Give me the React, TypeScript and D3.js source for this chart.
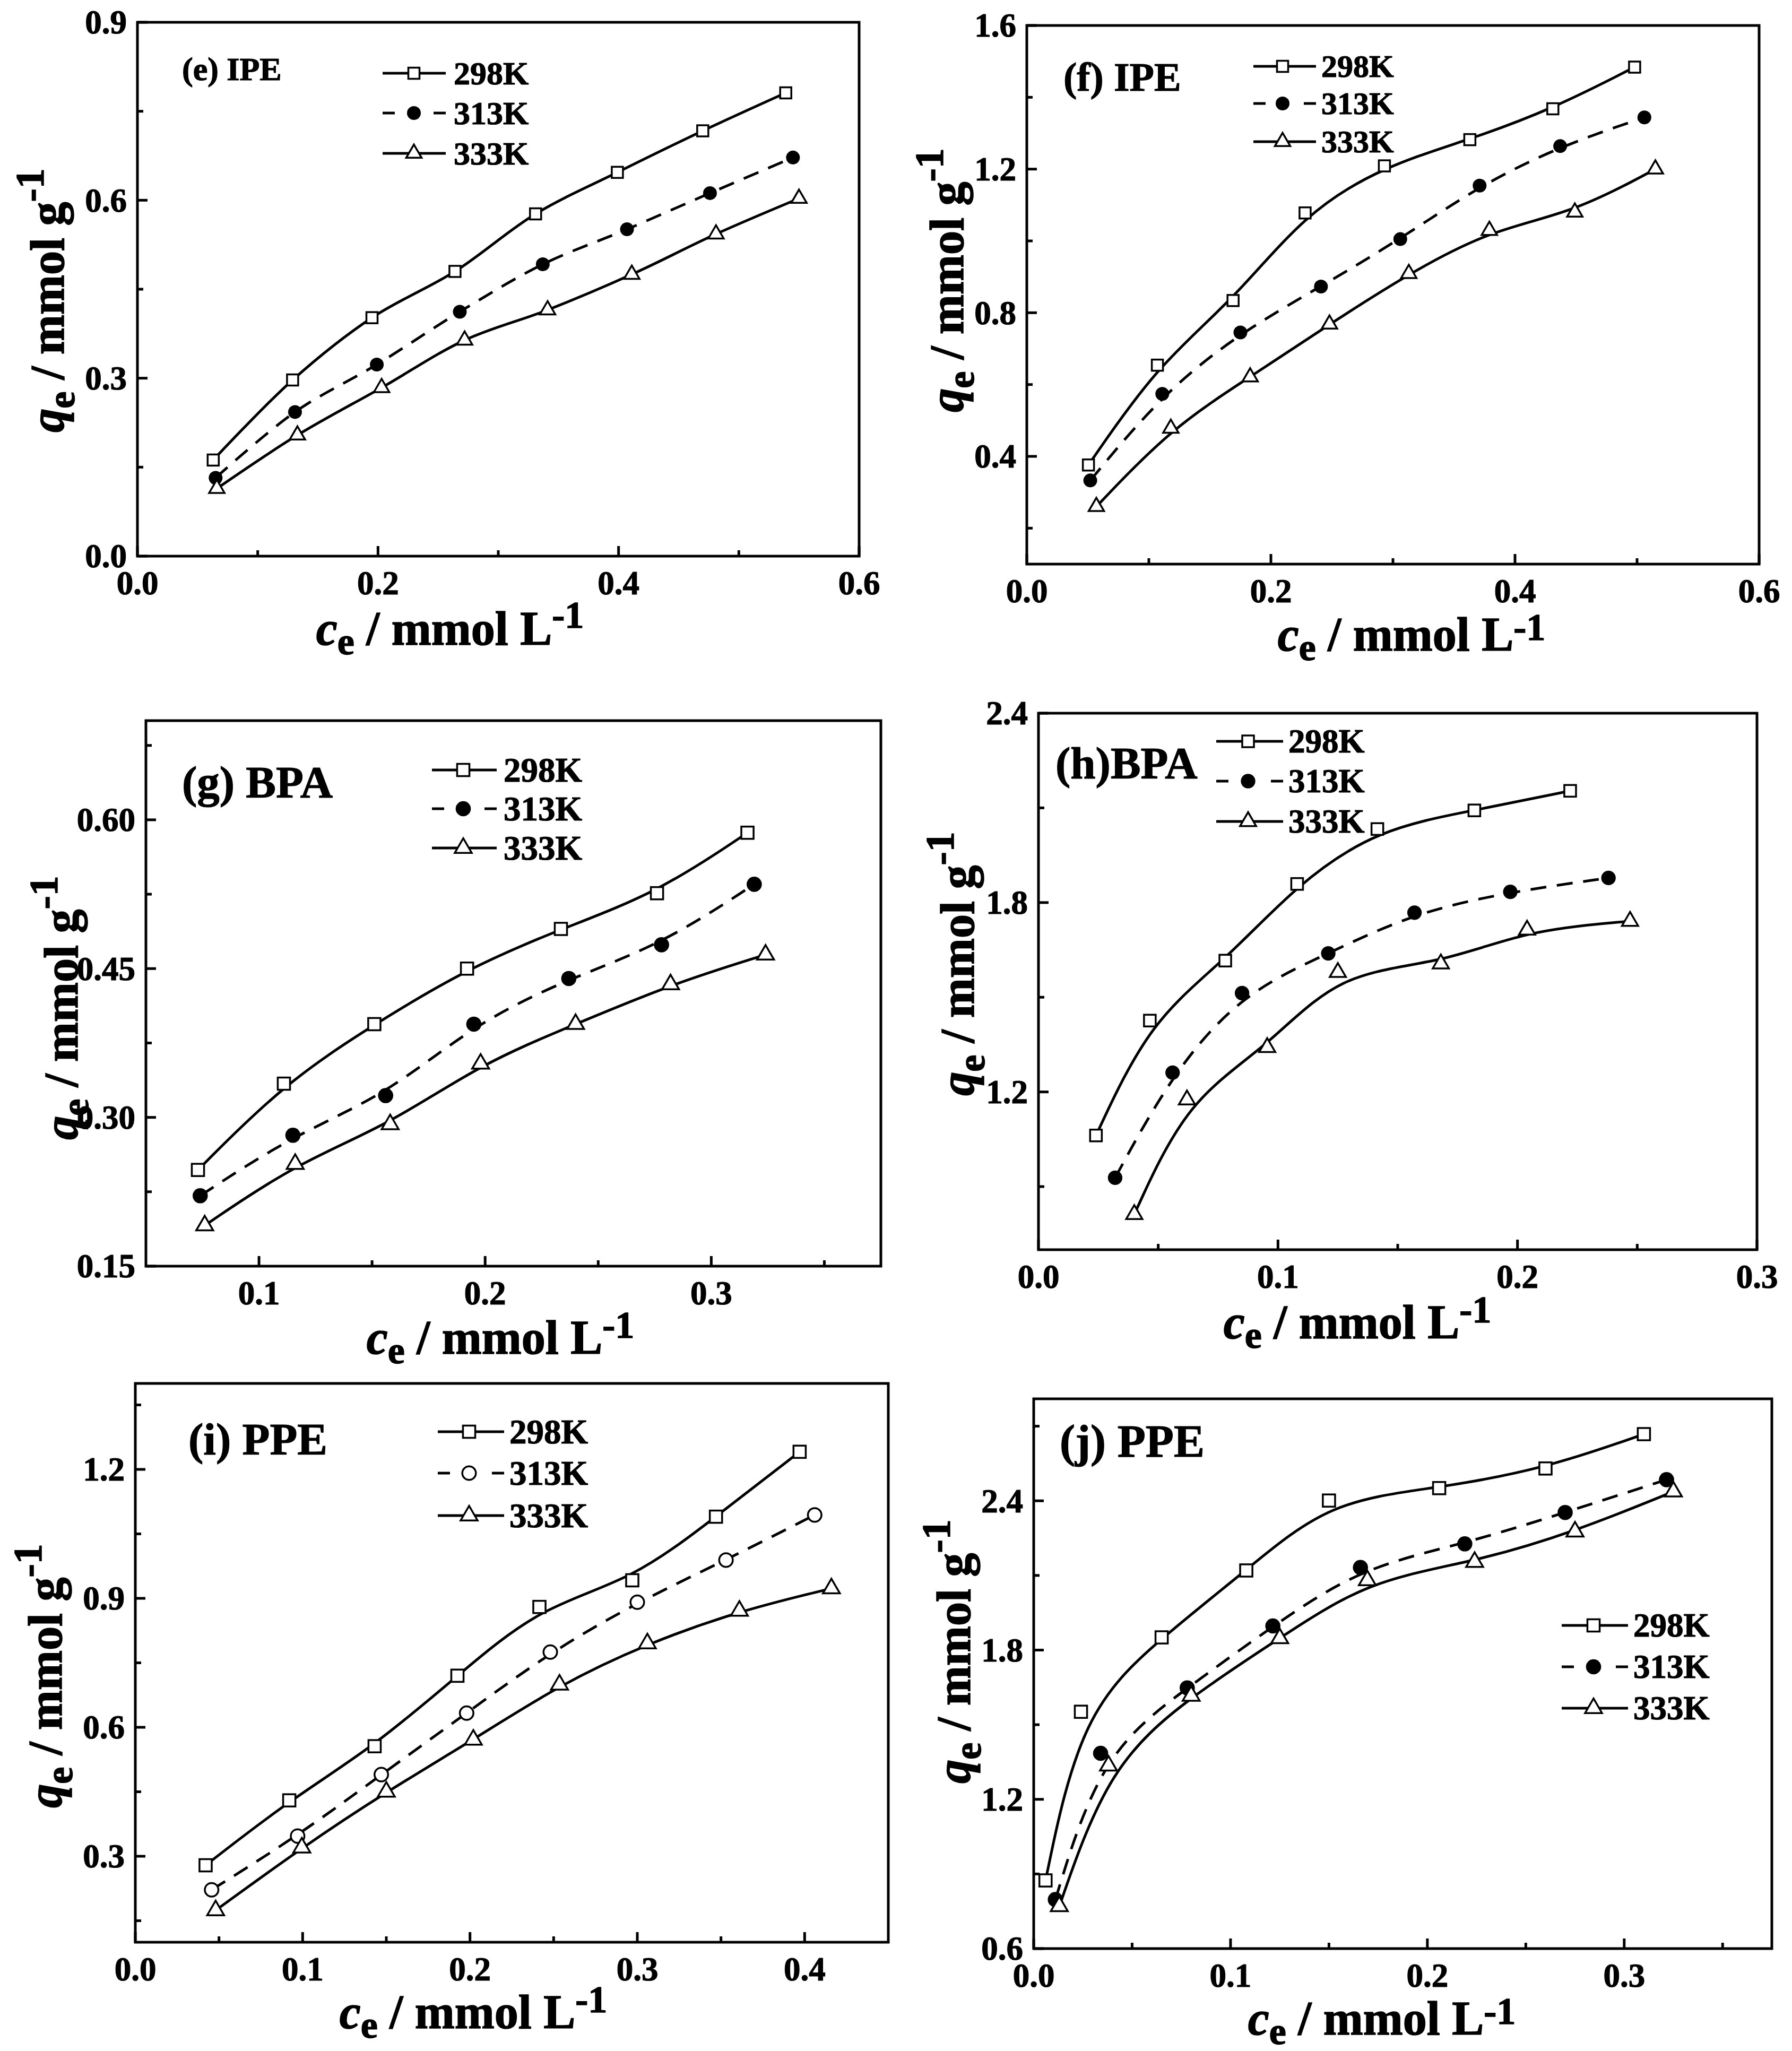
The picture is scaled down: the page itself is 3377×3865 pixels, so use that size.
import React from 'react';
import * as d3 from 'd3';

// ---------------- DATA ----------------
const seriesNames = ['298K', '313K', '333K'];

// (e) IPE
const e298x = [0.063, 0.129, 0.195, 0.264, 0.331, 0.399, 0.470, 0.539];
const e298y = [0.162, 0.297, 0.402, 0.480, 0.577, 0.647, 0.717, 0.781];
const e313x = [0.065, 0.131, 0.199, 0.268, 0.337, 0.407, 0.476, 0.545];
const e313y = [0.132, 0.243, 0.323, 0.412, 0.492, 0.551, 0.612, 0.672];
const e333x = [0.066, 0.133, 0.203, 0.272, 0.341, 0.411, 0.481, 0.550];
const e333y = [0.114, 0.204, 0.284, 0.364, 0.415, 0.475, 0.543, 0.603];

// (f) IPE
const f298x = [0.0505, 0.107, 0.169, 0.228, 0.293, 0.363, 0.431, 0.498];
const f298y = [0.376, 0.654, 0.834, 1.078, 1.209, 1.282, 1.368, 1.484];
const f313x = [0.052, 0.111, 0.175, 0.241, 0.306, 0.371, 0.437, 0.506];
const f313y = [0.333, 0.574, 0.745, 0.873, 1.005, 1.154, 1.264, 1.344];
const f333x = [0.057, 0.118, 0.183, 0.248, 0.313, 0.379, 0.449, 0.515];
const f333y = [0.260, 0.478, 0.621, 0.768, 0.909, 1.029, 1.080, 1.200];

// (g) BPA
const g298x = [0.073, 0.111, 0.151, 0.192, 0.2335, 0.276, 0.316];
const g298y = [0.247, 0.334, 0.394, 0.450, 0.490, 0.526, 0.587];
const g313x = [0.074, 0.115, 0.156, 0.195, 0.237, 0.278, 0.319];
const g313y = [0.221, 0.282, 0.322, 0.394, 0.440, 0.474, 0.535];
const g333x = [0.076, 0.116, 0.158, 0.198, 0.240, 0.282, 0.324];
const g333y = [0.191, 0.253, 0.293, 0.354, 0.394, 0.434, 0.464];

// (h) BPA
const h298x = [0.024, 0.0465, 0.078, 0.108, 0.1415, 0.182, 0.222];
const h298y = [1.062, 1.426, 1.616, 1.859, 2.033, 2.092, 2.154];
const h313x = [0.032, 0.056, 0.085, 0.121, 0.157, 0.197, 0.238];
const h313y = [0.928, 1.261, 1.513, 1.639, 1.768, 1.834, 1.878];
const h333x = [0.040, 0.062, 0.0955, 0.125, 0.168, 0.204, 0.247];
const h333y = [0.812, 1.175, 1.341, 1.579, 1.606, 1.713, 1.741];

// (i) PPE
const i298x = [0.042, 0.092, 0.143, 0.1925, 0.2415, 0.297, 0.347, 0.397];
const i298y = [0.279, 0.430, 0.556, 0.720, 0.880, 0.942, 1.090, 1.241];
const i313x = [0.0456, 0.097, 0.147, 0.198, 0.248, 0.300, 0.353, 0.406];
const i313y = [0.222, 0.347, 0.490, 0.633, 0.775, 0.891, 0.989, 1.094];
const i333x = [0.048, 0.0995, 0.150, 0.202, 0.2535, 0.306, 0.361, 0.416];
const i333y = [0.174, 0.320, 0.450, 0.571, 0.699, 0.795, 0.871, 0.923];

// (j) PPE
const j298x = [0.006, 0.024, 0.065, 0.108, 0.150, 0.206, 0.260, 0.310];
const j298y = [0.874, 1.552, 1.851, 2.120, 2.401, 2.451, 2.530, 2.668];
const j313x = [0.011, 0.034, 0.078, 0.1215, 0.166, 0.219, 0.270, 0.3215];
const j313y = [0.797, 1.385, 1.648, 1.897, 2.132, 2.227, 2.353, 2.485];
const j333x = [0.013, 0.038, 0.080, 0.125, 0.1695, 0.224, 0.275, 0.325];
const j333y = [0.770, 1.335, 1.616, 1.847, 2.080, 2.154, 2.276, 2.437];

// tick values
const ticksX06 = [0, 0.2, 0.4, 0.6];
const minorX06 = [0.1, 0.3, 0.5];
const ticksX03 = [0, 0.1, 0.2, 0.3];
const minorX03 = [0.05, 0.15, 0.25];
const ticksXg = [0.1, 0.2, 0.3];
const minorXg = [0.15, 0.25, 0.35];
const ticksXi = [0, 0.1, 0.2, 0.3, 0.4];
const minorXi = [0.05, 0.15, 0.25, 0.35];
const minorXj = [0.05, 0.15, 0.25, 0.35];

const ticksYe = [0, 0.3, 0.6, 0.9];
const minorYe = [0.15, 0.45, 0.75];
const ticksYf = [0.4, 0.8, 1.2, 1.6];
const minorYf = [0.2, 0.6, 1.0, 1.4];
const ticksYg = [0.15, 0.3, 0.45, 0.6];
const minorYg = [0.225, 0.375, 0.525, 0.675];
const ticksYh = [1.2, 1.8, 2.4];
const minorYh = [0.9, 1.5, 2.1];
const ticksYi = [0.3, 0.6, 0.9, 1.2];
const minorYi = [0.15, 0.45, 0.75, 1.05, 1.35];
const ticksYj = [0.6, 1.2, 1.8, 2.4];
const minorYj = [0.9, 1.5, 2.1, 2.7];

// ---------------- LAYOUT ----------------
const FONT = "'Liberation Serif', 'Times New Roman', serif";
const TS = 1.2; // extra stroke to thicken bold text

const zip = (xs: number[], ys: number[]) => xs.map((x, k) => [x, ys[k]] as [number, number]);

type PanelCfg = {
  label: string; lx: number; ly: number; lfs: number;
  l: number; r: number; t: number; b: number;
  xd: [number, number]; yd: [number, number];
  xt: number[]; xm: number[]; yt: number[]; ym: number[];
  xfmt: (v: number) => string; yfmt: (v: number) => string;
  series: [number, number][][];
  curve: any;
  openCircle: boolean;
  ms: number;
  leg: { x1: number; x2: number; mx: number; tx: number; rows: number[]; fs: number };
  xTitle: [number, number]; yTitle: [number, number]; supRaise: number;
};

const f1 = d3.format('.1f');
const f2 = d3.format('.2f');

const panels: PanelCfg[] = [
  {
    label: '(e) IPE', lx: 343, ly: 151, lfs: 62,
    l: 259, r: 1619, t: 42, b: 1048, xd: [0, 0.6], yd: [0, 0.9],
    xt: ticksX06, xm: minorX06, yt: ticksYe, ym: minorYe, xfmt: f1, yfmt: f1,
    series: [zip(e298x, e298y), zip(e313x, e313y), zip(e333x, e333y)],
    curve: d3.curveCatmullRom, openCircle: false, ms: 1,
    leg: { x1: 721, x2: 840, mx: 780, tx: 855, rows: [138, 213, 289], fs: 62 },
    xTitle: [848, 1215], yTitle: [120, 566], supRaise: 32,
  },
  {
    label: '(f) IPE', lx: 2004, ly: 171, lfs: 76,
    l: 1935, r: 3315, t: 48, b: 1063, xd: [0, 0.6], yd: [0.1, 1.6],
    xt: ticksX06, xm: minorX06, yt: ticksYf, ym: minorYf, xfmt: f1, yfmt: f1,
    series: [zip(f298x, f298y), zip(f313x, f313y), zip(f333x, f333y)],
    curve: d3.curveBasis, openCircle: false, ms: 1,
    leg: { x1: 2362, x2: 2480, mx: 2417, tx: 2490, rows: [125, 195, 267], fs: 60 },
    xTitle: [2660, 1226], yTitle: [1815, 528], supRaise: 20,
  },
  {
    label: '(g) BPA', lx: 343, ly: 1503, lfs: 85,
    l: 275, r: 1660, t: 1358, b: 2386, xd: [0.05, 0.375], yd: [0.15, 0.70],
    xt: ticksXg, xm: minorXg, yt: ticksYg, ym: minorYg, xfmt: f1, yfmt: f2,
    series: [zip(g298x, g298y), zip(g313x, g313y), zip(g333x, g333y)],
    curve: d3.curveBasis, openCircle: false, ms: 1.1,
    leg: { x1: 814, x2: 936, mx: 873, tx: 949, rows: [1451, 1524, 1598], fs: 65 },
    xTitle: [943, 2551], yTitle: [146, 1899], supRaise: 30,
  },
  {
    label: '(h)BPA', lx: 1989, ly: 1467, lfs: 85,
    l: 1957, r: 3311, t: 1344, b: 2355, xd: [0, 0.3], yd: [0.7, 2.4],
    xt: ticksX03, xm: minorX03, yt: ticksYh, ym: minorYh, xfmt: f1, yfmt: f1,
    series: [zip(h298x, h298y), zip(h313x, h313y), zip(h333x, h333y)],
    curve: d3.curveBasis, openCircle: false, ms: 1.05,
    leg: { x1: 2292, x2: 2418, mx: 2352, tx: 2428, rows: [1397, 1472, 1548], fs: 63 },
    xTitle: [2558, 2522], yTitle: [1835, 1816], supRaise: 30,
  },
  {
    label: '(i) PPE', lx: 355, ly: 2741, lfs: 85,
    l: 255, r: 1674, t: 2607, b: 3660, xd: [0, 0.45], yd: [0.1, 1.4],
    xt: ticksXi, xm: minorXi, yt: ticksYi, ym: minorYi, xfmt: f1, yfmt: f1,
    series: [zip(i298x, i298y), zip(i313x, i313y), zip(i333x, i333y)],
    curve: d3.curveBasis, openCircle: true, ms: 1.1,
    leg: { x1: 825, x2: 950, mx: 884, tx: 960, rows: [2698, 2776, 2856], fs: 65 },
    xTitle: [892, 3822], yTitle: [116, 3158], supRaise: 30,
  },
  {
    label: '(j) PPE', lx: 1997, ly: 2745, lfs: 87,
    l: 1948, r: 3339, t: 2636, b: 3672, xd: [0, 0.375], yd: [0.6, 2.81],
    xt: ticksX03, xm: minorXj, yt: ticksYj, ym: minorYj, xfmt: f1, yfmt: f1,
    series: [zip(j298x, j298y), zip(j313x, j313y), zip(j333x, j333y)],
    curve: d3.curveBasis, openCircle: false, ms: 1.1,
    leg: { x1: 2943, x2: 3068, mx: 3003, tx: 3078, rows: [3063, 3141, 3219], fs: 63 },
    xTitle: [2604, 3834], yTitle: [1828, 3112], supRaise: 20,
  },
];

const LW = 5;
const DASH = '30,20';

function Marker({ kind, x, y, s, open }: { kind: number; x: number; y: number; s: number; open: boolean }) {
  if (kind === 0) {
    const a = 21 * s;
    return <rect x={x - a / 2} y={y - a / 2} width={a} height={a} fill="#fff" stroke="#000" strokeWidth={3.5} />;
  }
  if (kind === 1) {
    const r = 13 * s;
    return open
      ? <circle cx={x} cy={y} r={r - 1.5} fill="#fff" stroke="#000" strokeWidth={3.5} />
      : <circle cx={x} cy={y} r={r} fill="#000" />;
  }
  const w = 29 * s, h = 25 * s;
  const d = `M${x},${y - (h * 2) / 3}L${x + w / 2},${y + h / 3}L${x - w / 2},${y + h / 3}Z`;
  return <path d={d} fill="#fff" stroke="#000" strokeWidth={3.5} strokeLinejoin="miter" />;
}

function XTitle({ x, y, sup }: { x: number; y: number; sup: number }) {
  return (
    <text x={x} y={y} textAnchor="middle" fontFamily={FONT} fontWeight="bold" fontSize={90}
      stroke="#000" strokeWidth={1.6}>
      <tspan fontStyle="italic">c</tspan>
      <tspan fontSize={72} dy={18}>e</tspan>
      <tspan dy={-18}> / mmol L</tspan>
      <tspan fontSize={72} dy={-sup}>-1</tspan>
    </text>
  );
}

function YTitle({ x, y }: { x: number; y: number }) {
  return (
    <text x={0} y={0} transform={`translate(${x},${y}) rotate(-90)`} textAnchor="middle"
      fontFamily={FONT} fontWeight="bold" fontSize={90} stroke="#000" strokeWidth={1.6}>
      <tspan fontStyle="italic">q</tspan>
      <tspan fontSize={72} dy={20}>e</tspan>
      <tspan dy={-20}> / mmol g</tspan>
      <tspan fontSize={76} dy={-38}>-1</tspan>
    </text>
  );
}

function Panel({ p }: { p: PanelCfg }) {
  const xs = d3.scaleLinear().domain(p.xd).range([p.l, p.r]);
  const ys = d3.scaleLinear().domain(p.yd).range([p.b, p.t]);
  const line = d3.line<[number, number]>().x(d => xs(d[0])).y(d => ys(d[1])).curve(p.curve);
  const maj = 19, mnr = 11;
  const legLen = p.leg.x2 - p.leg.x1;
  const legDash = `23,${legLen - 46},23`;
  return (
    <g>
      {p.series.map((s, k) => (
        <path key={'c' + k} d={line(s) || ''} fill="none" stroke="#000" strokeWidth={LW}
          strokeDasharray={k === 1 ? DASH : undefined} />
      ))}
      {p.series.map((s, k) => s.map((d, m) => (
        <Marker key={'m' + k + '-' + m} kind={k} x={xs(d[0])} y={ys(d[1])} s={p.ms} open={p.openCircle} />
      )))}
      <rect x={p.l} y={p.t} width={p.r - p.l} height={p.b - p.t} fill="none" stroke="#000" strokeWidth={5} />
      {p.xt.map(v => (
        <g key={'xt' + v}>
          <line x1={xs(v)} x2={xs(v)} y1={p.b} y2={p.b - maj} stroke="#000" strokeWidth={5} />
          <text x={xs(v)} y={p.b + 72} textAnchor="middle" fontFamily={FONT} fontWeight="bold" fontSize={63}
            stroke="#000" strokeWidth={TS}>{p.xfmt(v)}</text>
        </g>
      ))}
      {p.xm.map(v => (
        <line key={'xm' + v} x1={xs(v)} x2={xs(v)} y1={p.b} y2={p.b - mnr} stroke="#000" strokeWidth={5} />
      ))}
      {p.yt.map(v => (
        <g key={'yt' + v}>
          <line x1={p.l} x2={p.l + maj} y1={ys(v)} y2={ys(v)} stroke="#000" strokeWidth={5} />
          <text x={p.l - 20} y={ys(v)} dy="0.34em" textAnchor="end" fontFamily={FONT} fontWeight="bold" fontSize={63}
            stroke="#000" strokeWidth={TS}>{p.yfmt(v)}</text>
        </g>
      ))}
      {p.ym.map(v => (
        <line key={'ym' + v} x1={p.l} x2={p.l + mnr} y1={ys(v)} y2={ys(v)} stroke="#000" strokeWidth={5} />
      ))}
      <text x={p.lx} y={p.ly} fontFamily={FONT} fontWeight="bold" fontSize={p.lfs}
        stroke="#000" strokeWidth={TS}>{p.label}</text>
      {seriesNames.map((name, k) => (
        <g key={'lg' + k}>
          <line x1={p.leg.x1} x2={p.leg.x2} y1={p.leg.rows[k]} y2={p.leg.rows[k]} stroke="#000" strokeWidth={LW}
            strokeDasharray={k === 1 ? legDash : undefined} />
          <Marker kind={k} x={p.leg.mx} y={p.leg.rows[k]} s={p.ms} open={p.openCircle} />
          <text x={p.leg.tx} y={p.leg.rows[k]} dy="0.34em" fontFamily={FONT} fontWeight="bold" fontSize={p.leg.fs}
            stroke="#000" strokeWidth={TS}>{name}</text>
        </g>
      ))}
      <XTitle x={p.xTitle[0]} y={p.xTitle[1]} sup={p.supRaise} />
      <YTitle x={p.yTitle[0]} y={p.yTitle[1]} />
    </g>
  );
}

export default function App() {
  return (
    <svg width={3377} height={3865} viewBox="0 0 3377 3865"
      style={{ position: 'absolute', left: 0, top: 0, background: '#fff', display: 'block' }}>
      <rect x={0} y={0} width={3377} height={3865} fill="#fff" />
      {panels.map((p, k) => <Panel key={k} p={p} />)}
    </svg>
  );
}
